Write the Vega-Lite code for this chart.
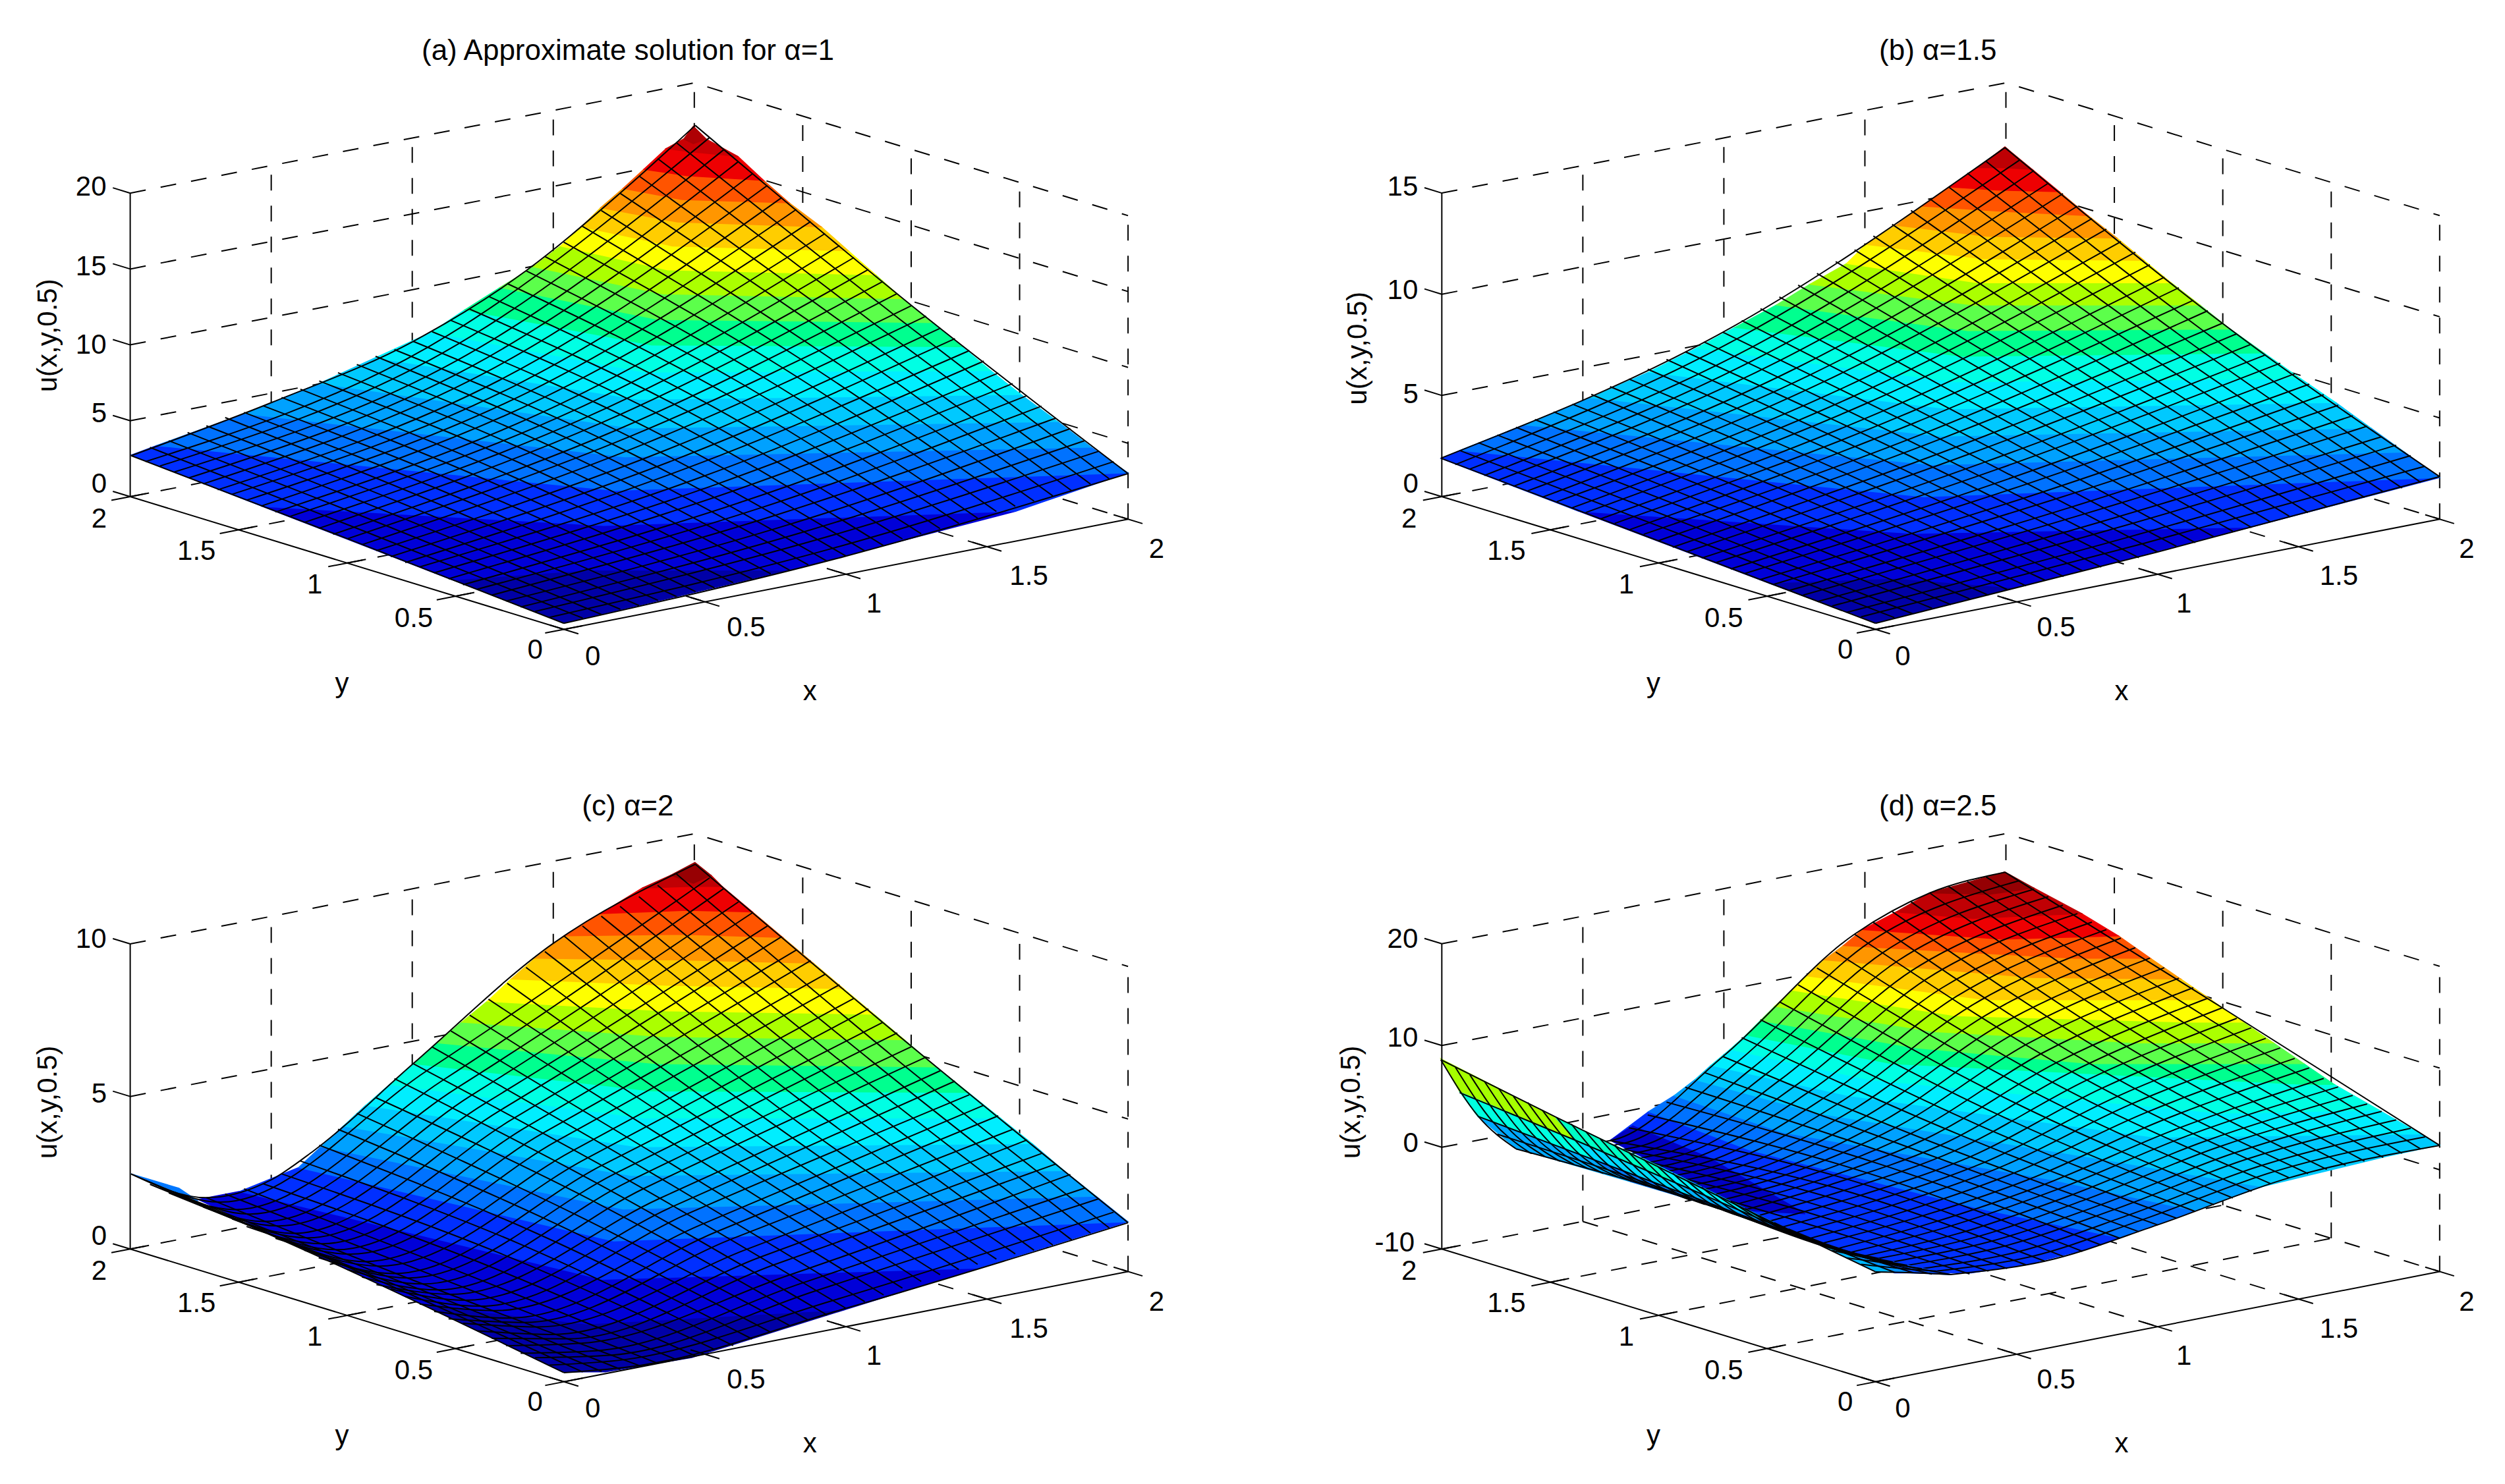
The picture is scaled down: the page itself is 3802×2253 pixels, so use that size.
{"$schema":"https://vega.github.io/schema/vega-lite/v6.json","width":3802,"height":2253,"autosize":{"type":"fit","contains":"padding"},"padding":0,"background":"white","config":{"view":{"stroke":null},"axis":{"disable":true},"text":{"font":"Liberation Sans","fontSize":42,"color":"#000"}},
"datasets":{
"dash":[
{"p":"a","g":1,"i":0,"j":30,"u":20},{"p":"a","g":1,"i":30,"j":30,"u":20},{"p":"a","g":1,"i":30,"j":0,"u":20},{"p":"a","g":2,"i":30,"j":30,"u":0},{"p":"a","g":2,"i":30,"j":30,"u":20},{"p":"a","g":3,"i":30,"j":0,"u":0},{"p":"a","g":3,"i":30,"j":0,"u":20},{"p":"a","g":4,"i":0,"j":30,"u":0},{"p":"a","g":4,"i":30,"j":30,"u":0},{"p":"a","g":4,"i":30,"j":0,"u":0},
{"p":"a","g":5,"i":7.5,"j":30,"u":0},{"p":"a","g":5,"i":7.5,"j":30,"u":20},{"p":"a","g":6,"i":15,"j":30,"u":0},{"p":"a","g":6,"i":15,"j":30,"u":20},{"p":"a","g":7,"i":22.5,"j":30,"u":0},{"p":"a","g":7,"i":22.5,"j":30,"u":20},{"p":"a","g":8,"i":30,"j":7.5,"u":0},{"p":"a","g":8,"i":30,"j":7.5,"u":20},{"p":"a","g":9,"i":30,"j":15,"u":0},{"p":"a","g":9,"i":30,"j":15,"u":20},{"p":"a","g":10,"i":30,"j":22.5,"u":0},{"p":"a","g":10,"i":30,"j":22.5,"u":20},
{"p":"a","g":11,"i":7.5,"j":0,"u":0},{"p":"a","g":11,"i":7.5,"j":30,"u":0},{"p":"a","g":12,"i":15,"j":0,"u":0},{"p":"a","g":12,"i":15,"j":30,"u":0},{"p":"a","g":13,"i":22.5,"j":0,"u":0},{"p":"a","g":13,"i":22.5,"j":30,"u":0},{"p":"a","g":14,"i":0,"j":7.5,"u":0},{"p":"a","g":14,"i":30,"j":7.5,"u":0},{"p":"a","g":15,"i":0,"j":15,"u":0},{"p":"a","g":15,"i":30,"j":15,"u":0},{"p":"a","g":16,"i":0,"j":22.5,"u":0},{"p":"a","g":16,"i":30,"j":22.5,"u":0},
{"p":"a","g":17,"i":0,"j":30,"u":5},{"p":"a","g":17,"i":30,"j":30,"u":5},{"p":"a","g":17,"i":30,"j":0,"u":5},{"p":"a","g":18,"i":0,"j":30,"u":10},{"p":"a","g":18,"i":30,"j":30,"u":10},{"p":"a","g":18,"i":30,"j":0,"u":10},{"p":"a","g":19,"i":0,"j":30,"u":15},{"p":"a","g":19,"i":30,"j":30,"u":15},{"p":"a","g":19,"i":30,"j":0,"u":15},
{"p":"b","g":1,"i":0,"j":30,"u":15},{"p":"b","g":1,"i":30,"j":30,"u":15},{"p":"b","g":1,"i":30,"j":0,"u":15},{"p":"b","g":2,"i":30,"j":30,"u":0},{"p":"b","g":2,"i":30,"j":30,"u":15},{"p":"b","g":3,"i":30,"j":0,"u":0},{"p":"b","g":3,"i":30,"j":0,"u":15},{"p":"b","g":4,"i":0,"j":30,"u":0},{"p":"b","g":4,"i":30,"j":30,"u":0},{"p":"b","g":4,"i":30,"j":0,"u":0},
{"p":"b","g":5,"i":7.5,"j":30,"u":0},{"p":"b","g":5,"i":7.5,"j":30,"u":15},{"p":"b","g":6,"i":15,"j":30,"u":0},{"p":"b","g":6,"i":15,"j":30,"u":15},{"p":"b","g":7,"i":22.5,"j":30,"u":0},{"p":"b","g":7,"i":22.5,"j":30,"u":15},{"p":"b","g":8,"i":30,"j":7.5,"u":0},{"p":"b","g":8,"i":30,"j":7.5,"u":15},{"p":"b","g":9,"i":30,"j":15,"u":0},{"p":"b","g":9,"i":30,"j":15,"u":15},{"p":"b","g":10,"i":30,"j":22.5,"u":0},{"p":"b","g":10,"i":30,"j":22.5,"u":15},
{"p":"b","g":11,"i":7.5,"j":0,"u":0},{"p":"b","g":11,"i":7.5,"j":30,"u":0},{"p":"b","g":12,"i":15,"j":0,"u":0},{"p":"b","g":12,"i":15,"j":30,"u":0},{"p":"b","g":13,"i":22.5,"j":0,"u":0},{"p":"b","g":13,"i":22.5,"j":30,"u":0},{"p":"b","g":14,"i":0,"j":7.5,"u":0},{"p":"b","g":14,"i":30,"j":7.5,"u":0},{"p":"b","g":15,"i":0,"j":15,"u":0},{"p":"b","g":15,"i":30,"j":15,"u":0},{"p":"b","g":16,"i":0,"j":22.5,"u":0},{"p":"b","g":16,"i":30,"j":22.5,"u":0},
{"p":"b","g":17,"i":0,"j":30,"u":5},{"p":"b","g":17,"i":30,"j":30,"u":5},{"p":"b","g":17,"i":30,"j":0,"u":5},{"p":"b","g":18,"i":0,"j":30,"u":10},{"p":"b","g":18,"i":30,"j":30,"u":10},{"p":"b","g":18,"i":30,"j":0,"u":10},
{"p":"c","g":1,"i":0,"j":30,"u":10},{"p":"c","g":1,"i":30,"j":30,"u":10},{"p":"c","g":1,"i":30,"j":0,"u":10},{"p":"c","g":2,"i":30,"j":30,"u":0},{"p":"c","g":2,"i":30,"j":30,"u":10},{"p":"c","g":3,"i":30,"j":0,"u":0},{"p":"c","g":3,"i":30,"j":0,"u":10},{"p":"c","g":4,"i":0,"j":30,"u":0},{"p":"c","g":4,"i":30,"j":30,"u":0},{"p":"c","g":4,"i":30,"j":0,"u":0},
{"p":"c","g":5,"i":7.5,"j":30,"u":0},{"p":"c","g":5,"i":7.5,"j":30,"u":10},{"p":"c","g":6,"i":15,"j":30,"u":0},{"p":"c","g":6,"i":15,"j":30,"u":10},{"p":"c","g":7,"i":22.5,"j":30,"u":0},{"p":"c","g":7,"i":22.5,"j":30,"u":10},{"p":"c","g":8,"i":30,"j":7.5,"u":0},{"p":"c","g":8,"i":30,"j":7.5,"u":10},{"p":"c","g":9,"i":30,"j":15,"u":0},{"p":"c","g":9,"i":30,"j":15,"u":10},{"p":"c","g":10,"i":30,"j":22.5,"u":0},{"p":"c","g":10,"i":30,"j":22.5,"u":10},
{"p":"c","g":11,"i":7.5,"j":0,"u":0},{"p":"c","g":11,"i":7.5,"j":30,"u":0},{"p":"c","g":12,"i":15,"j":0,"u":0},{"p":"c","g":12,"i":15,"j":30,"u":0},{"p":"c","g":13,"i":22.5,"j":0,"u":0},{"p":"c","g":13,"i":22.5,"j":30,"u":0},{"p":"c","g":14,"i":0,"j":7.5,"u":0},{"p":"c","g":14,"i":30,"j":7.5,"u":0},{"p":"c","g":15,"i":0,"j":15,"u":0},{"p":"c","g":15,"i":30,"j":15,"u":0},{"p":"c","g":16,"i":0,"j":22.5,"u":0},{"p":"c","g":16,"i":30,"j":22.5,"u":0},
{"p":"c","g":17,"i":0,"j":30,"u":5},{"p":"c","g":17,"i":30,"j":30,"u":5},{"p":"c","g":17,"i":30,"j":0,"u":5},
{"p":"d","g":1,"i":0,"j":30,"u":20},{"p":"d","g":1,"i":30,"j":30,"u":20},{"p":"d","g":1,"i":30,"j":0,"u":20},{"p":"d","g":2,"i":30,"j":30,"u":-10},{"p":"d","g":2,"i":30,"j":30,"u":20},{"p":"d","g":3,"i":30,"j":0,"u":-10},{"p":"d","g":3,"i":30,"j":0,"u":20},{"p":"d","g":4,"i":0,"j":30,"u":-10},{"p":"d","g":4,"i":30,"j":30,"u":-10},{"p":"d","g":4,"i":30,"j":0,"u":-10},
{"p":"d","g":5,"i":7.5,"j":30,"u":-10},{"p":"d","g":5,"i":7.5,"j":30,"u":20},{"p":"d","g":6,"i":15,"j":30,"u":-10},{"p":"d","g":6,"i":15,"j":30,"u":20},{"p":"d","g":7,"i":22.5,"j":30,"u":-10},{"p":"d","g":7,"i":22.5,"j":30,"u":20},{"p":"d","g":8,"i":30,"j":7.5,"u":-10},{"p":"d","g":8,"i":30,"j":7.5,"u":20},{"p":"d","g":9,"i":30,"j":15,"u":-10},{"p":"d","g":9,"i":30,"j":15,"u":20},{"p":"d","g":10,"i":30,"j":22.5,"u":-10},{"p":"d","g":10,"i":30,"j":22.5,"u":20},
{"p":"d","g":11,"i":7.5,"j":0,"u":-10},{"p":"d","g":11,"i":7.5,"j":30,"u":-10},{"p":"d","g":12,"i":15,"j":0,"u":-10},{"p":"d","g":12,"i":15,"j":30,"u":-10},{"p":"d","g":13,"i":22.5,"j":0,"u":-10},{"p":"d","g":13,"i":22.5,"j":30,"u":-10},{"p":"d","g":14,"i":0,"j":7.5,"u":-10},{"p":"d","g":14,"i":30,"j":7.5,"u":-10},{"p":"d","g":15,"i":0,"j":15,"u":-10},{"p":"d","g":15,"i":30,"j":15,"u":-10},{"p":"d","g":16,"i":0,"j":22.5,"u":-10},{"p":"d","g":16,"i":30,"j":22.5,"u":-10},
{"p":"d","g":17,"i":0,"j":30,"u":0},{"p":"d","g":17,"i":30,"j":30,"u":0},{"p":"d","g":17,"i":30,"j":0,"u":0},{"p":"d","g":18,"i":0,"j":30,"u":10},{"p":"d","g":18,"i":30,"j":30,"u":10},{"p":"d","g":18,"i":30,"j":0,"u":10}
],
"solid":[
{"p":"a","g":1,"i":0,"j":30,"u":0},{"p":"a","g":1,"i":0,"j":30,"u":20},{"p":"a","g":2,"i":0,"j":0,"u":0},{"p":"a","g":2,"i":0,"j":30,"u":0},{"p":"a","g":3,"i":0,"j":0,"u":0},{"p":"a","g":3,"i":30,"j":0,"u":0},
{"p":"a","g":4,"i":-1,"j":0,"u":0},{"p":"a","g":4,"i":1,"j":0,"u":0},{"p":"a","g":5,"i":-1,"j":7.5,"u":0},{"p":"a","g":5,"i":1,"j":7.5,"u":0},{"p":"a","g":6,"i":-1,"j":15,"u":0},{"p":"a","g":6,"i":1,"j":15,"u":0},{"p":"a","g":7,"i":-1,"j":22.5,"u":0},{"p":"a","g":7,"i":1,"j":22.5,"u":0},{"p":"a","g":8,"i":-1,"j":30,"u":0},{"p":"a","g":8,"i":1,"j":30,"u":0},
{"p":"a","g":9,"i":0,"j":-1,"u":0},{"p":"a","g":9,"i":0,"j":1,"u":0},{"p":"a","g":10,"i":7.5,"j":-1,"u":0},{"p":"a","g":10,"i":7.5,"j":1,"u":0},{"p":"a","g":11,"i":15,"j":-1,"u":0},{"p":"a","g":11,"i":15,"j":1,"u":0},{"p":"a","g":12,"i":22.5,"j":-1,"u":0},{"p":"a","g":12,"i":22.5,"j":1,"u":0},{"p":"a","g":13,"i":30,"j":-1,"u":0},{"p":"a","g":13,"i":30,"j":1,"u":0},
{"p":"a","g":14,"i":0,"j":30,"u":0},{"p":"a","g":14,"i":0,"j":31.2,"u":0},{"p":"a","g":15,"i":0,"j":30,"u":5},{"p":"a","g":15,"i":0,"j":31.2,"u":5},{"p":"a","g":16,"i":0,"j":30,"u":10},{"p":"a","g":16,"i":0,"j":31.2,"u":10},{"p":"a","g":17,"i":0,"j":30,"u":15},{"p":"a","g":17,"i":0,"j":31.2,"u":15},{"p":"a","g":18,"i":0,"j":30,"u":20},{"p":"a","g":18,"i":0,"j":31.2,"u":20},
{"p":"b","g":1,"i":0,"j":30,"u":0},{"p":"b","g":1,"i":0,"j":30,"u":15},{"p":"b","g":2,"i":0,"j":0,"u":0},{"p":"b","g":2,"i":0,"j":30,"u":0},{"p":"b","g":3,"i":0,"j":0,"u":0},{"p":"b","g":3,"i":30,"j":0,"u":0},
{"p":"b","g":4,"i":-1,"j":0,"u":0},{"p":"b","g":4,"i":1,"j":0,"u":0},{"p":"b","g":5,"i":-1,"j":7.5,"u":0},{"p":"b","g":5,"i":1,"j":7.5,"u":0},{"p":"b","g":6,"i":-1,"j":15,"u":0},{"p":"b","g":6,"i":1,"j":15,"u":0},{"p":"b","g":7,"i":-1,"j":22.5,"u":0},{"p":"b","g":7,"i":1,"j":22.5,"u":0},{"p":"b","g":8,"i":-1,"j":30,"u":0},{"p":"b","g":8,"i":1,"j":30,"u":0},
{"p":"b","g":9,"i":0,"j":-1,"u":0},{"p":"b","g":9,"i":0,"j":1,"u":0},{"p":"b","g":10,"i":7.5,"j":-1,"u":0},{"p":"b","g":10,"i":7.5,"j":1,"u":0},{"p":"b","g":11,"i":15,"j":-1,"u":0},{"p":"b","g":11,"i":15,"j":1,"u":0},{"p":"b","g":12,"i":22.5,"j":-1,"u":0},{"p":"b","g":12,"i":22.5,"j":1,"u":0},{"p":"b","g":13,"i":30,"j":-1,"u":0},{"p":"b","g":13,"i":30,"j":1,"u":0},
{"p":"b","g":14,"i":0,"j":30,"u":0},{"p":"b","g":14,"i":0,"j":31.2,"u":0},{"p":"b","g":15,"i":0,"j":30,"u":5},{"p":"b","g":15,"i":0,"j":31.2,"u":5},{"p":"b","g":16,"i":0,"j":30,"u":10},{"p":"b","g":16,"i":0,"j":31.2,"u":10},{"p":"b","g":17,"i":0,"j":30,"u":15},{"p":"b","g":17,"i":0,"j":31.2,"u":15},
{"p":"c","g":1,"i":0,"j":30,"u":0},{"p":"c","g":1,"i":0,"j":30,"u":10},{"p":"c","g":2,"i":0,"j":0,"u":0},{"p":"c","g":2,"i":0,"j":30,"u":0},{"p":"c","g":3,"i":0,"j":0,"u":0},{"p":"c","g":3,"i":30,"j":0,"u":0},
{"p":"c","g":4,"i":-1,"j":0,"u":0},{"p":"c","g":4,"i":1,"j":0,"u":0},{"p":"c","g":5,"i":-1,"j":7.5,"u":0},{"p":"c","g":5,"i":1,"j":7.5,"u":0},{"p":"c","g":6,"i":-1,"j":15,"u":0},{"p":"c","g":6,"i":1,"j":15,"u":0},{"p":"c","g":7,"i":-1,"j":22.5,"u":0},{"p":"c","g":7,"i":1,"j":22.5,"u":0},{"p":"c","g":8,"i":-1,"j":30,"u":0},{"p":"c","g":8,"i":1,"j":30,"u":0},
{"p":"c","g":9,"i":0,"j":-1,"u":0},{"p":"c","g":9,"i":0,"j":1,"u":0},{"p":"c","g":10,"i":7.5,"j":-1,"u":0},{"p":"c","g":10,"i":7.5,"j":1,"u":0},{"p":"c","g":11,"i":15,"j":-1,"u":0},{"p":"c","g":11,"i":15,"j":1,"u":0},{"p":"c","g":12,"i":22.5,"j":-1,"u":0},{"p":"c","g":12,"i":22.5,"j":1,"u":0},{"p":"c","g":13,"i":30,"j":-1,"u":0},{"p":"c","g":13,"i":30,"j":1,"u":0},
{"p":"c","g":14,"i":0,"j":30,"u":0},{"p":"c","g":14,"i":0,"j":31.2,"u":0},{"p":"c","g":15,"i":0,"j":30,"u":5},{"p":"c","g":15,"i":0,"j":31.2,"u":5},{"p":"c","g":16,"i":0,"j":30,"u":10},{"p":"c","g":16,"i":0,"j":31.2,"u":10},
{"p":"d","g":1,"i":0,"j":30,"u":-10},{"p":"d","g":1,"i":0,"j":30,"u":20},{"p":"d","g":2,"i":0,"j":0,"u":-10},{"p":"d","g":2,"i":0,"j":30,"u":-10},{"p":"d","g":3,"i":0,"j":0,"u":-10},{"p":"d","g":3,"i":30,"j":0,"u":-10},
{"p":"d","g":4,"i":-1,"j":0,"u":-10},{"p":"d","g":4,"i":1,"j":0,"u":-10},{"p":"d","g":5,"i":-1,"j":7.5,"u":-10},{"p":"d","g":5,"i":1,"j":7.5,"u":-10},{"p":"d","g":6,"i":-1,"j":15,"u":-10},{"p":"d","g":6,"i":1,"j":15,"u":-10},{"p":"d","g":7,"i":-1,"j":22.5,"u":-10},{"p":"d","g":7,"i":1,"j":22.5,"u":-10},{"p":"d","g":8,"i":-1,"j":30,"u":-10},{"p":"d","g":8,"i":1,"j":30,"u":-10},
{"p":"d","g":9,"i":0,"j":-1,"u":-10},{"p":"d","g":9,"i":0,"j":1,"u":-10},{"p":"d","g":10,"i":7.5,"j":-1,"u":-10},{"p":"d","g":10,"i":7.5,"j":1,"u":-10},{"p":"d","g":11,"i":15,"j":-1,"u":-10},{"p":"d","g":11,"i":15,"j":1,"u":-10},{"p":"d","g":12,"i":22.5,"j":-1,"u":-10},{"p":"d","g":12,"i":22.5,"j":1,"u":-10},{"p":"d","g":13,"i":30,"j":-1,"u":-10},{"p":"d","g":13,"i":30,"j":1,"u":-10},
{"p":"d","g":14,"i":0,"j":30,"u":-10},{"p":"d","g":14,"i":0,"j":31.2,"u":-10},{"p":"d","g":15,"i":0,"j":30,"u":0},{"p":"d","g":15,"i":0,"j":31.2,"u":0},{"p":"d","g":16,"i":0,"j":30,"u":10},{"p":"d","g":16,"i":0,"j":31.2,"u":10},{"p":"d","g":17,"i":0,"j":30,"u":20},{"p":"d","g":17,"i":0,"j":31.2,"u":20}
],
"polys":[
{"type":"Feature","f":0.028,"geometry":{"type":"Polygon","coordinates":[[[353,390],[494,357],[368,357],[283,363],[353,390]]]}},
{"type":"Feature","f":0.083,"geometry":{"type":"Polygon","coordinates":[[[283,363],[368,357],[494,357],[636,320],[378,329],[164,317],[283,363]]]}},
{"type":"Feature","f":0.139,"geometry":{"type":"Polygon","coordinates":[[[164,317],[378,329],[636,320],[706,296],[385,307],[98,279],[82,285],[164,317]]]}},
{"type":"Feature","f":0.194,"geometry":{"type":"Polygon","coordinates":[[[98,279],[385,307],[706,296],[683,280],[391,286],[153,259],[98,279]]]}},
{"type":"Feature","f":0.25,"geometry":{"type":"Polygon","coordinates":[[[153,259],[391,286],[683,280],[662,264],[396,268],[200,240],[153,259]]]}},
{"type":"Feature","f":0.306,"geometry":{"type":"Polygon","coordinates":[[[200,240],[396,268],[662,264],[639,247],[400,250],[235,224],[200,240]]]}},
{"type":"Feature","f":0.361,"geometry":{"type":"Polygon","coordinates":[[[235,224],[400,250],[639,247],[620,232],[404,233],[270,208],[235,224]]]}},
{"type":"Feature","f":0.417,"geometry":{"type":"Polygon","coordinates":[[[270,208],[404,233],[620,232],[602,217],[408,216],[291,194],[270,208]]]}},
{"type":"Feature","f":0.472,"geometry":{"type":"Polygon","coordinates":[[[291,194],[408,216],[602,217],[584,202],[412,200],[313,180],[291,194]]]}},
{"type":"Feature","f":0.528,"geometry":{"type":"Polygon","coordinates":[[[313,180],[412,200],[584,202],[565,187],[415,184],[334,167],[313,180]]]}},
{"type":"Feature","f":0.583,"geometry":{"type":"Polygon","coordinates":[[[334,167],[415,184],[565,187],[548,172],[418,169],[351,154],[334,167]]]}},
{"type":"Feature","f":0.639,"geometry":{"type":"Polygon","coordinates":[[[351,154],[418,169],[548,172],[531,157],[421,154],[364,142],[351,154]]]}},
{"type":"Feature","f":0.694,"geometry":{"type":"Polygon","coordinates":[[[364,142],[421,154],[531,157],[514,142],[424,139],[376,130],[364,142]]]}},
{"type":"Feature","f":0.75,"geometry":{"type":"Polygon","coordinates":[[[376,130],[424,139],[514,142],[494,127],[427,125],[390,118],[376,130]]]}},
{"type":"Feature","f":0.806,"geometry":{"type":"Polygon","coordinates":[[[390,118],[427,125],[494,127],[478,113],[430,110],[403,106],[390,118]]]}},
{"type":"Feature","f":0.861,"geometry":{"type":"Polygon","coordinates":[[[403,106],[430,110],[478,113],[462,98],[432,95],[417,93],[403,106]]]}},
{"type":"Feature","f":0.905,"geometry":{"type":"Polygon","coordinates":[[[417,93],[432,95],[462,98],[442,87],[434,90],[428,87],[417,93]]]}},
{"type":"Feature","f":0.94,"geometry":{"type":"Polygon","coordinates":[[[428,87],[434,90],[442,87],[434,79],[428,87]]]}},
{"type":"Feature","f":0.028,"geometry":{"type":"Polygon","coordinates":[[[1174,390],[1261,368],[1186,362],[1107,365],[1174,390]]]}},
{"type":"Feature","f":0.083,"geometry":{"type":"Polygon","coordinates":[[[1107,365],[1186,362],[1261,368],[1409,330],[1197,334],[988,320],[1107,365]]]}},
{"type":"Feature","f":0.139,"geometry":{"type":"Polygon","coordinates":[[[988,320],[1197,334],[1409,330],[1527,299],[1204,311],[914,282],[902,287],[988,320]]]}},
{"type":"Feature","f":0.194,"geometry":{"type":"Polygon","coordinates":[[[914,282],[1204,311],[1527,299],[1505,283],[1210,291],[954,266],[914,282]]]}},
{"type":"Feature","f":0.25,"geometry":{"type":"Polygon","coordinates":[[[954,266],[1210,291],[1505,283],[1484,268],[1215,273],[996,249],[954,266]]]}},
{"type":"Feature","f":0.306,"geometry":{"type":"Polygon","coordinates":[[[996,249],[1215,273],[1484,268],[1462,252],[1220,256],[1032,233],[996,249]]]}},
{"type":"Feature","f":0.361,"geometry":{"type":"Polygon","coordinates":[[[1032,233],[1220,256],[1462,252],[1440,237],[1224,239],[1062,218],[1032,233]]]}},
{"type":"Feature","f":0.417,"geometry":{"type":"Polygon","coordinates":[[[1062,218],[1224,239],[1440,237],[1417,221],[1228,223],[1086,205],[1062,218]]]}},
{"type":"Feature","f":0.472,"geometry":{"type":"Polygon","coordinates":[[[1086,205],[1228,223],[1417,221],[1396,206],[1232,207],[1112,191],[1086,205]]]}},
{"type":"Feature","f":0.528,"geometry":{"type":"Polygon","coordinates":[[[1112,191],[1232,207],[1396,206],[1377,191],[1235,191],[1133,178],[1112,191]]]}},
{"type":"Feature","f":0.583,"geometry":{"type":"Polygon","coordinates":[[[1133,178],[1235,191],[1377,191],[1359,177],[1238,177],[1156,165],[1133,178]]]}},
{"type":"Feature","f":0.639,"geometry":{"type":"Polygon","coordinates":[[[1156,165],[1238,177],[1359,177],[1342,163],[1241,162],[1168,153],[1156,165]]]}},
{"type":"Feature","f":0.694,"geometry":{"type":"Polygon","coordinates":[[[1168,153],[1241,162],[1342,163],[1325,149],[1244,148],[1187,141],[1168,153]]]}},
{"type":"Feature","f":0.75,"geometry":{"type":"Polygon","coordinates":[[[1187,141],[1244,148],[1325,149],[1307,135],[1248,132],[1203,129],[1187,141]]]}},
{"type":"Feature","f":0.806,"geometry":{"type":"Polygon","coordinates":[[[1203,129],[1248,132],[1307,135],[1289,120],[1250,119],[1220,117],[1203,129]]]}},
{"type":"Feature","f":0.861,"geometry":{"type":"Polygon","coordinates":[[[1220,117],[1250,119],[1289,120],[1272,106],[1253,105],[1238,105],[1220,117]]]}},
{"type":"Feature","f":0.92,"geometry":{"type":"Polygon","coordinates":[[[1238,105],[1253,105],[1272,106],[1255,92],[1238,105]]]}},
{"type":"Feature","f":0.2,"geometry":{"type":"Polygon","coordinates":[[[82,735],[124,752],[112,744],[82,735]]]}},
{"type":"Feature","f":0.028,"geometry":{"type":"Polygon","coordinates":[[[265,817],[367,829],[529,820],[433,850],[379,859],[352,859],[265,817]]]}},
{"type":"Feature","f":0.083,"geometry":{"type":"Polygon","coordinates":[[[124,751],[150,746],[377,801],[612,794],[529,820],[367,829],[265,817],[124,751]]]}},
{"type":"Feature","f":0.139,"geometry":{"type":"Polygon","coordinates":[[[150,746],[187,731],[384,777],[706,765],[612,794],[377,801],[150,746]]]}},
{"type":"Feature","f":0.194,"geometry":{"type":"Polygon","coordinates":[[[187,731],[384,777],[706,765],[686,749],[390,757],[201,718],[187,731]]]}},
{"type":"Feature","f":0.25,"geometry":{"type":"Polygon","coordinates":[[[201,718],[390,757],[686,749],[666,733],[395,736],[215,705],[201,718]]]}},
{"type":"Feature","f":0.306,"geometry":{"type":"Polygon","coordinates":[[[215,705],[395,736],[666,733],[646,716],[399,718],[229,692],[215,705]]]}},
{"type":"Feature","f":0.361,"geometry":{"type":"Polygon","coordinates":[[[229,692],[399,718],[646,716],[626,700],[403,700],[244,679],[229,692]]]}},
{"type":"Feature","f":0.417,"geometry":{"type":"Polygon","coordinates":[[[244,679],[403,700],[626,700],[606,684],[407,683],[259,666],[244,679]]]}},
{"type":"Feature","f":0.472,"geometry":{"type":"Polygon","coordinates":[[[259,666],[407,683],[606,684],[586,668],[411,666],[274,653],[259,666]]]}},
{"type":"Feature","f":0.528,"geometry":{"type":"Polygon","coordinates":[[[274,653],[411,666],[586,668],[566,651],[415,649],[289,640],[274,653]]]}},
{"type":"Feature","f":0.583,"geometry":{"type":"Polygon","coordinates":[[[289,640],[415,649],[566,651],[547,635],[418,633],[305,627],[289,640]]]}},
{"type":"Feature","f":0.639,"geometry":{"type":"Polygon","coordinates":[[[305,627],[418,633],[547,635],[528,619],[421,617],[320,613],[305,627]]]}},
{"type":"Feature","f":0.694,"geometry":{"type":"Polygon","coordinates":[[[320,613],[421,617],[528,619],[509,603],[424,601],[335,600],[320,613]]]}},
{"type":"Feature","f":0.75,"geometry":{"type":"Polygon","coordinates":[[[335,600],[424,601],[509,603],[490,587],[427,585],[353,586],[335,600]]]}},
{"type":"Feature","f":0.806,"geometry":{"type":"Polygon","coordinates":[[[353,586],[427,585],[490,587],[471,571],[430,570],[376,572],[353,586]]]}},
{"type":"Feature","f":0.861,"geometry":{"type":"Polygon","coordinates":[[[376,572],[430,570],[471,571],[452,555],[432,555],[402,556],[376,572]]]}},
{"type":"Feature","f":0.917,"geometry":{"type":"Polygon","coordinates":[[[402,556],[432,555],[452,555],[445,548],[434,553],[420,548],[402,556]]]}},
{"type":"Feature","f":0.97,"geometry":{"type":"Polygon","coordinates":[[[420,548],[434,553],[445,548],[435,540],[420,548]]]}},
{"type":"Feature","f":0.14,"geometry":{"type":"Polygon","coordinates":[[[1008,714],[1032,696],[1095,720],[1236,756],[1327,775],[1303,783],[1268,792],[1234,797],[1186,797],[1090,757],[1008,714]]]}},
{"type":"Feature","f":0.06,"geometry":{"type":"Polygon","coordinates":[[[1008,714],[1022,705],[1070,725],[1130,760],[1095,758],[1008,714]]]}},
{"type":"Feature","f":0.194,"geometry":{"type":"Polygon","coordinates":[[[1032,696],[1095,720],[1236,756],[1327,775],[1374,758],[1286,739],[1116,709],[1048,686],[1032,696]]]}},
{"type":"Feature","f":0.25,"geometry":{"type":"Polygon","coordinates":[[[1048,686],[1116,709],[1286,739],[1374,758],[1416,743],[1317,726],[1138,697],[1061,676],[1048,686]]]}},
{"type":"Feature","f":0.306,"geometry":{"type":"Polygon","coordinates":[[[1061,676],[1138,697],[1317,726],[1416,743],[1494,724],[1527,717],[1515,710],[1349,712],[1157,686],[1071,667],[1061,676]]]}},
{"type":"Feature","f":0.361,"geometry":{"type":"Polygon","coordinates":[[[1071,667],[1157,686],[1349,712],[1515,710],[1489,695],[1390,697],[1170,676],[1083,657],[1071,667]]]}},
{"type":"Feature","f":0.417,"geometry":{"type":"Polygon","coordinates":[[[1083,657],[1170,676],[1390,697],[1489,695],[1461,679],[1443,679],[1184,666],[1093,648],[1083,657]]]}},
{"type":"Feature","f":0.472,"geometry":{"type":"Polygon","coordinates":[[[1093,648],[1184,666],[1443,679],[1461,679],[1442,666],[1309,666],[1198,656],[1102,639],[1093,648]]]}},
{"type":"Feature","f":0.528,"geometry":{"type":"Polygon","coordinates":[[[1102,639],[1198,656],[1309,666],[1442,666],[1423,653],[1339,653],[1211,646],[1111,630],[1102,639]]]}},
{"type":"Feature","f":0.583,"geometry":{"type":"Polygon","coordinates":[[[1111,630],[1211,646],[1339,653],[1423,653],[1404,640],[1370,640],[1224,636],[1122,620],[1111,630]]]}},
{"type":"Feature","f":0.639,"geometry":{"type":"Polygon","coordinates":[[[1122,620],[1224,636],[1370,640],[1404,640],[1384,626],[1243,626],[1131,611],[1122,620]]]}},
{"type":"Feature","f":0.694,"geometry":{"type":"Polygon","coordinates":[[[1131,611],[1243,626],[1384,626],[1365,613],[1272,612],[1142,601],[1131,611]]]}},
{"type":"Feature","f":0.75,"geometry":{"type":"Polygon","coordinates":[[[1142,601],[1272,612],[1365,613],[1346,600],[1298,600],[1154,592],[1142,601]]]}},
{"type":"Feature","f":0.806,"geometry":{"type":"Polygon","coordinates":[[[1154,592],[1298,600],[1346,600],[1326,586],[1253,588],[1166,582],[1154,592]]]}},
{"type":"Feature","f":0.861,"geometry":{"type":"Polygon","coordinates":[[[1166,582],[1253,588],[1326,586],[1303,572],[1235,575],[1187,571],[1166,582]]]}},
{"type":"Feature","f":0.917,"geometry":{"type":"Polygon","coordinates":[[[1187,571],[1235,575],[1303,572],[1273,556],[1245,560],[1208,559],[1187,571]]]}},
{"type":"Feature","f":0.972,"geometry":{"type":"Polygon","coordinates":[[[1208,559],[1245,560],[1273,556],[1255,546],[1208,559]]]}}
],
"strip":[
{"type":"Feature","f":0.58,"geometry":{"type":"Polygon","coordinates":[[[902,663],[974,700],[986,714],[914,684],[902,663]]]}},
{"type":"Feature","f":0.44,"geometry":{"type":"Polygon","coordinates":[[[974,700],[1038,730],[1050,741],[986,714],[974,700]]]}},
{"type":"Feature","f":0.37,"geometry":{"type":"Polygon","coordinates":[[[1038,730],[1101,761],[1113,768],[1050,741],[1038,730]]]}},
{"type":"Feature","f":0.28,"geometry":{"type":"Polygon","coordinates":[[[1101,761],[1174,796],[1186,796],[1113,768],[1101,761]]]}},
{"type":"Feature","f":0.42,"geometry":{"type":"Polygon","coordinates":[[[914,684],[986,714],[998,726],[925,699],[914,684]]]}},
{"type":"Feature","f":0.33,"geometry":{"type":"Polygon","coordinates":[[[986,714],[1050,741],[1061,750],[998,726],[986,714]]]}},
{"type":"Feature","f":0.27,"geometry":{"type":"Polygon","coordinates":[[[1050,741],[1113,768],[1125,773],[1061,750],[1050,741]]]}},
{"type":"Feature","f":0.23,"geometry":{"type":"Polygon","coordinates":[[[1113,768],[1186,796],[1197,797],[1125,773],[1113,768]]]}},
{"type":"Feature","f":0.26,"geometry":{"type":"Polygon","coordinates":[[[925,699],[998,726],[1021,740],[949,719],[925,699]]]}},
{"type":"Feature","f":0.2,"geometry":{"type":"Polygon","coordinates":[[[998,726],[1061,750],[1085,759],[1021,740],[998,726]]]}},
{"type":"Feature","f":0.165,"geometry":{"type":"Polygon","coordinates":[[[1061,750],[1125,773],[1148,782],[1085,759],[1061,750]]]}},
{"type":"Feature","f":0.16,"geometry":{"type":"Polygon","coordinates":[[[1125,773],[1197,797],[1221,798],[1148,782],[1125,773]]]}}
],
"a1":[{"j":0,"i":0,"u":0.4},{"j":0,"i":15,"u":1.2},{"j":0,"i":30,"u":3},{"j":1,"i":0,"u":0.5},{"j":1,"i":15,"u":1.4},{"j":1,"i":30,"u":3.5},{"j":2,"i":0,"u":0.6},{"j":2,"i":15,"u":1.7},{"j":2,"i":30,"u":3.9},{"j":3,"i":0,"u":0.6},{"j":3,"i":15,"u":1.9},{"j":3,"i":30,"u":4.3},{"j":4,"i":0,"u":0.7},{"j":4,"i":15,"u":2.1},{"j":4,"i":30,"u":4.8},{"j":5,"i":0,"u":0.8},{"j":5,"i":15,"u":2.4},{"j":5,"i":30,"u":5.2},{"j":6,"i":0,"u":0.9},{"j":6,"i":15,"u":2.6},{"j":6,"i":30,"u":5.7},{"j":7,"i":0,"u":0.9},{"j":7,"i":15,"u":2.8},{"j":7,"i":30,"u":6.1},{"j":8,"i":0,"u":1},{"j":8,"i":15,"u":3.1},{"j":8,"i":30,"u":6.6},{"j":9,"i":0,"u":1.1},{"j":9,"i":15,"u":3.3},{"j":9,"i":30,"u":7},{"j":10,"i":0,"u":1.2},{"j":10,"i":15,"u":3.5},{"j":10,"i":30,"u":7.5},{"j":11,"i":0,"u":1.2},{"j":11,"i":15,"u":3.8},{"j":11,"i":30,"u":7.9},{"j":12,"i":0,"u":1.3},{"j":12,"i":15,"u":4},{"j":12,"i":30,"u":8.4},{"j":13,"i":0,"u":1.4},{"j":13,"i":15,"u":4.2},{"j":13,"i":30,"u":8.8},{"j":14,"i":0,"u":1.5},{"j":14,"i":15,"u":4.5},{"j":14,"i":30,"u":9.3},{"j":15,"i":0,"u":1.6},{"j":15,"i":15,"u":4.7},{"j":15,"i":30,"u":9.7},{"j":16,"i":0,"u":1.6},{"j":16,"i":15,"u":4.8},{"j":16,"i":30,"u":10.2},{"j":17,"i":0,"u":1.7},{"j":17,"i":15,"u":5},{"j":17,"i":30,"u":10.7},{"j":18,"i":0,"u":1.8},{"j":18,"i":15,"u":5.1},{"j":18,"i":30,"u":11.2},{"j":19,"i":0,"u":1.9},{"j":19,"i":15,"u":5.2},{"j":19,"i":30,"u":11.7},{"j":20,"i":0,"u":1.9},{"j":20,"i":15,"u":5.3},{"j":20,"i":30,"u":12.2},{"j":21,"i":0,"u":2},{"j":21,"i":15,"u":5.5},{"j":21,"i":30,"u":12.7},{"j":22,"i":0,"u":2.1},{"j":22,"i":15,"u":5.6},{"j":22,"i":30,"u":13.2},{"j":23,"i":0,"u":2.2},{"j":23,"i":15,"u":5.7},{"j":23,"i":30,"u":13.7},{"j":24,"i":0,"u":2.2},{"j":24,"i":15,"u":5.8},{"j":24,"i":30,"u":14.2},{"j":25,"i":0,"u":2.3},{"j":25,"i":15,"u":6},{"j":25,"i":30,"u":14.7},{"j":26,"i":0,"u":2.4},{"j":26,"i":15,"u":6.1},{"j":26,"i":30,"u":15.2},{"j":27,"i":0,"u":2.5},{"j":27,"i":15,"u":6.2},{"j":27,"i":30,"u":15.7},{"j":28,"i":0,"u":2.6},{"j":28,"i":15,"u":6.4},{"j":28,"i":30,"u":16.2},{"j":29,"i":0,"u":2.6},{"j":29,"i":15,"u":6.5},{"j":29,"i":30,"u":16.7},{"j":30,"i":0,"u":2.7},{"j":30,"i":7.5,"u":4.4},{"j":30,"i":15,"u":6.6},{"j":30,"i":21,"u":9.8},{"j":30,"i":26,"u":13.7},{"j":30,"i":30,"u":17.2}],
"a2":[{"i":0,"j":0,"u":0.4},{"i":0,"j":15,"u":1.6},{"i":0,"j":30,"u":2.7},{"i":1,"j":0,"u":0.5},{"i":1,"j":15,"u":1.8},{"i":1,"j":30,"u":3},{"i":2,"j":0,"u":0.5},{"i":2,"j":15,"u":2},{"i":2,"j":30,"u":3.2},{"i":3,"j":0,"u":0.6},{"i":3,"j":15,"u":2.2},{"i":3,"j":30,"u":3.5},{"i":4,"j":0,"u":0.6},{"i":4,"j":15,"u":2.4},{"i":4,"j":30,"u":3.7},{"i":5,"j":0,"u":0.7},{"i":5,"j":15,"u":2.6},{"i":5,"j":30,"u":4},{"i":6,"j":0,"u":0.7},{"i":6,"j":15,"u":2.8},{"i":6,"j":30,"u":4.1},{"i":7,"j":0,"u":0.8},{"i":7,"j":15,"u":3},{"i":7,"j":30,"u":4.3},{"i":8,"j":0,"u":0.8},{"i":8,"j":15,"u":3.2},{"i":8,"j":30,"u":4.6},{"i":9,"j":0,"u":0.9},{"i":9,"j":15,"u":3.4},{"i":9,"j":30,"u":4.9},{"i":10,"j":0,"u":0.9},{"i":10,"j":15,"u":3.7},{"i":10,"j":30,"u":5.2},{"i":11,"j":0,"u":1},{"i":11,"j":15,"u":3.9},{"i":11,"j":30,"u":5.5},{"i":12,"j":0,"u":1},{"i":12,"j":15,"u":4.1},{"i":12,"j":30,"u":5.8},{"i":13,"j":0,"u":1.1},{"i":13,"j":15,"u":4.3},{"i":13,"j":30,"u":6.1},{"i":14,"j":0,"u":1.1},{"i":14,"j":15,"u":4.5},{"i":14,"j":30,"u":6.3},{"i":15,"j":0,"u":1.2},{"i":15,"j":15,"u":4.7},{"i":15,"j":30,"u":6.6},{"i":16,"j":0,"u":1.3},{"i":16,"j":15,"u":5},{"i":16,"j":30,"u":7},{"i":17,"j":0,"u":1.4},{"i":17,"j":15,"u":5.4},{"i":17,"j":30,"u":7.5},{"i":18,"j":0,"u":1.6},{"i":18,"j":15,"u":5.7},{"i":18,"j":30,"u":8},{"i":19,"j":0,"u":1.7},{"i":19,"j":15,"u":6},{"i":19,"j":30,"u":8.6},{"i":20,"j":0,"u":1.8},{"i":20,"j":15,"u":6.4},{"i":20,"j":30,"u":9.2},{"i":21,"j":0,"u":1.9},{"i":21,"j":15,"u":6.7},{"i":21,"j":30,"u":9.8},{"i":22,"j":0,"u":2},{"i":22,"j":15,"u":7},{"i":22,"j":30,"u":10.5},{"i":23,"j":0,"u":2.2},{"i":23,"j":15,"u":7.4},{"i":23,"j":30,"u":11.2},{"i":24,"j":0,"u":2.3},{"i":24,"j":15,"u":7.7},{"i":24,"j":30,"u":12},{"i":25,"j":0,"u":2.4},{"i":25,"j":15,"u":8},{"i":25,"j":30,"u":12.8},{"i":26,"j":0,"u":2.5},{"i":26,"j":15,"u":8.4},{"i":26,"j":30,"u":13.7},{"i":27,"j":0,"u":2.6},{"i":27,"j":15,"u":8.7},{"i":27,"j":30,"u":14.6},{"i":28,"j":0,"u":2.8},{"i":28,"j":15,"u":9},{"i":28,"j":30,"u":15.5},{"i":29,"j":0,"u":2.9},{"i":29,"j":15,"u":9.4},{"i":29,"j":30,"u":16.3},{"i":30,"j":0,"u":3},{"i":30,"j":15,"u":9.7},{"i":30,"j":30,"u":17.2}],
"b1":[{"j":0,"i":0,"u":0.3},{"j":0,"i":15,"u":1.1},{"j":0,"i":30,"u":2.1},{"j":1,"i":0,"u":0.4},{"j":1,"i":15,"u":1.3},{"j":1,"i":30,"u":2.4},{"j":2,"i":0,"u":0.4},{"j":2,"i":15,"u":1.4},{"j":2,"i":30,"u":2.7},{"j":3,"i":0,"u":0.5},{"j":3,"i":15,"u":1.6},{"j":3,"i":30,"u":3},{"j":4,"i":0,"u":0.5},{"j":4,"i":15,"u":1.7},{"j":4,"i":30,"u":3.2},{"j":5,"i":0,"u":0.6},{"j":5,"i":15,"u":1.9},{"j":5,"i":30,"u":3.5},{"j":6,"i":0,"u":0.6},{"j":6,"i":15,"u":2},{"j":6,"i":30,"u":3.8},{"j":7,"i":0,"u":0.7},{"j":7,"i":15,"u":2.2},{"j":7,"i":30,"u":4.1},{"j":8,"i":0,"u":0.7},{"j":8,"i":15,"u":2.3},{"j":8,"i":30,"u":4.4},{"j":9,"i":0,"u":0.8},{"j":9,"i":15,"u":2.5},{"j":9,"i":30,"u":4.7},{"j":10,"i":0,"u":0.8},{"j":10,"i":15,"u":2.6},{"j":10,"i":30,"u":5},{"j":11,"i":0,"u":0.9},{"j":11,"i":15,"u":2.8},{"j":11,"i":30,"u":5.3},{"j":12,"i":0,"u":0.9},{"j":12,"i":15,"u":2.9},{"j":12,"i":30,"u":5.5},{"j":13,"i":0,"u":1},{"j":13,"i":15,"u":3.1},{"j":13,"i":30,"u":5.8},{"j":14,"i":0,"u":1},{"j":14,"i":15,"u":3.2},{"j":14,"i":30,"u":6.1},{"j":15,"i":0,"u":1.1},{"j":15,"i":15,"u":3.4},{"j":15,"i":30,"u":6.4},{"j":16,"i":0,"u":1.2},{"j":16,"i":15,"u":3.5},{"j":16,"i":30,"u":6.8},{"j":17,"i":0,"u":1.2},{"j":17,"i":15,"u":3.7},{"j":17,"i":30,"u":7.1},{"j":18,"i":0,"u":1.3},{"j":18,"i":15,"u":3.8},{"j":18,"i":30,"u":7.5},{"j":19,"i":0,"u":1.3},{"j":19,"i":15,"u":3.9},{"j":19,"i":30,"u":7.8},{"j":20,"i":0,"u":1.4},{"j":20,"i":15,"u":4.1},{"j":20,"i":30,"u":8.2},{"j":21,"i":0,"u":1.4},{"j":21,"i":15,"u":4.2},{"j":21,"i":30,"u":8.6},{"j":22,"i":0,"u":1.5},{"j":22,"i":15,"u":4.3},{"j":22,"i":30,"u":8.9},{"j":23,"i":0,"u":1.5},{"j":23,"i":15,"u":4.5},{"j":23,"i":30,"u":9.3},{"j":24,"i":0,"u":1.6},{"j":24,"i":15,"u":4.6},{"j":24,"i":30,"u":9.6},{"j":25,"i":0,"u":1.6},{"j":25,"i":15,"u":4.7},{"j":25,"i":30,"u":10},{"j":26,"i":0,"u":1.7},{"j":26,"i":15,"u":4.9},{"j":26,"i":30,"u":10.4},{"j":27,"i":0,"u":1.7},{"j":27,"i":15,"u":5},{"j":27,"i":30,"u":10.7},{"j":28,"i":0,"u":1.8},{"j":28,"i":15,"u":5.1},{"j":28,"i":30,"u":11.1},{"j":29,"i":0,"u":1.8},{"j":29,"i":15,"u":5.3},{"j":29,"i":30,"u":11.4},{"j":30,"i":0,"u":1.9},{"j":30,"i":15,"u":5.4},{"j":30,"i":30,"u":11.8}],
"b2":[{"i":0,"j":0,"u":0.3},{"i":0,"j":15,"u":1.1},{"i":0,"j":30,"u":1.9},{"i":1,"j":0,"u":0.4},{"i":1,"j":15,"u":1.3},{"i":1,"j":30,"u":2.1},{"i":2,"j":0,"u":0.4},{"i":2,"j":15,"u":1.4},{"i":2,"j":30,"u":2.3},{"i":3,"j":0,"u":0.5},{"i":3,"j":15,"u":1.6},{"i":3,"j":30,"u":2.5},{"i":4,"j":0,"u":0.5},{"i":4,"j":15,"u":1.7},{"i":4,"j":30,"u":2.7},{"i":5,"j":0,"u":0.6},{"i":5,"j":15,"u":1.9},{"i":5,"j":30,"u":2.9},{"i":6,"j":0,"u":0.6},{"i":6,"j":15,"u":2},{"i":6,"j":30,"u":3.1},{"i":7,"j":0,"u":0.7},{"i":7,"j":15,"u":2.2},{"i":7,"j":30,"u":3.3},{"i":8,"j":0,"u":0.7},{"i":8,"j":15,"u":2.3},{"i":8,"j":30,"u":3.6},{"i":9,"j":0,"u":0.8},{"i":9,"j":15,"u":2.5},{"i":9,"j":30,"u":3.8},{"i":10,"j":0,"u":0.8},{"i":10,"j":15,"u":2.6},{"i":10,"j":30,"u":4},{"i":11,"j":0,"u":0.9},{"i":11,"j":15,"u":2.8},{"i":11,"j":30,"u":4.3},{"i":12,"j":0,"u":0.9},{"i":12,"j":15,"u":2.9},{"i":12,"j":30,"u":4.6},{"i":13,"j":0,"u":1},{"i":13,"j":15,"u":3.1},{"i":13,"j":30,"u":4.8},{"i":14,"j":0,"u":1},{"i":14,"j":15,"u":3.2},{"i":14,"j":30,"u":5.1},{"i":15,"j":0,"u":1.1},{"i":15,"j":15,"u":3.4},{"i":15,"j":30,"u":5.4},{"i":16,"j":0,"u":1.2},{"i":16,"j":15,"u":3.6},{"i":16,"j":30,"u":5.8},{"i":17,"j":0,"u":1.2},{"i":17,"j":15,"u":3.8},{"i":17,"j":30,"u":6.2},{"i":18,"j":0,"u":1.3},{"i":18,"j":15,"u":4},{"i":18,"j":30,"u":6.6},{"i":19,"j":0,"u":1.4},{"i":19,"j":15,"u":4.2},{"i":19,"j":30,"u":7},{"i":20,"j":0,"u":1.4},{"i":20,"j":15,"u":4.4},{"i":20,"j":30,"u":7.4},{"i":21,"j":0,"u":1.5},{"i":21,"j":15,"u":4.6},{"i":21,"j":30,"u":7.8},{"i":22,"j":0,"u":1.6},{"i":22,"j":15,"u":4.8},{"i":22,"j":30,"u":8.2},{"i":23,"j":0,"u":1.6},{"i":23,"j":15,"u":5},{"i":23,"j":30,"u":8.7},{"i":24,"j":0,"u":1.7},{"i":24,"j":15,"u":5.2},{"i":24,"j":30,"u":9.1},{"i":25,"j":0,"u":1.8},{"i":25,"j":15,"u":5.4},{"i":25,"j":30,"u":9.6},{"i":26,"j":0,"u":1.8},{"i":26,"j":15,"u":5.6},{"i":26,"j":30,"u":10},{"i":27,"j":0,"u":1.9},{"i":27,"j":15,"u":5.8},{"i":27,"j":30,"u":10.4},{"i":28,"j":0,"u":1.9},{"i":28,"j":15,"u":6},{"i":28,"j":30,"u":10.9},{"i":29,"j":0,"u":2},{"i":29,"j":15,"u":6.2},{"i":29,"j":30,"u":11.3},{"i":30,"j":0,"u":2.1},{"i":30,"j":15,"u":6.4},{"i":30,"j":30,"u":11.8}],
"c1":[{"j":0,"i":0,"u":0.3},{"j":0,"i":4,"u":0.05},{"j":0,"i":15,"u":0.6},{"j":0,"i":30,"u":1.6},{"j":1,"i":0,"u":0.4},{"j":1,"i":4,"u":0.1},{"j":1,"i":15,"u":0.7},{"j":1,"i":30,"u":1.8},{"j":2,"i":0,"u":0.5},{"j":2,"i":4,"u":0.1},{"j":2,"i":15,"u":0.9},{"j":2,"i":30,"u":2.1},{"j":3,"i":0,"u":0.5},{"j":3,"i":4,"u":0.1},{"j":3,"i":15,"u":1},{"j":3,"i":30,"u":2.3},{"j":4,"i":0,"u":0.6},{"j":4,"i":4,"u":0.2},{"j":4,"i":15,"u":1.1},{"j":4,"i":30,"u":2.6},{"j":5,"i":0,"u":0.7},{"j":5,"i":4,"u":0.2},{"j":5,"i":15,"u":1.3},{"j":5,"i":30,"u":2.8},{"j":6,"i":0,"u":0.8},{"j":6,"i":4,"u":0.2},{"j":6,"i":15,"u":1.4},{"j":6,"i":30,"u":3},{"j":7,"i":0,"u":0.9},{"j":7,"i":4,"u":0.3},{"j":7,"i":15,"u":1.5},{"j":7,"i":30,"u":3.3},{"j":8,"i":0,"u":0.9},{"j":8,"i":4,"u":0.3},{"j":8,"i":15,"u":1.7},{"j":8,"i":30,"u":3.5},{"j":9,"i":0,"u":1},{"j":9,"i":4,"u":0.3},{"j":9,"i":15,"u":1.8},{"j":9,"i":30,"u":3.8},{"j":10,"i":0,"u":1.1},{"j":10,"i":4,"u":0.4},{"j":10,"i":15,"u":1.9},{"j":10,"i":30,"u":4},{"j":11,"i":0,"u":1.2},{"j":11,"i":4,"u":0.4},{"j":11,"i":15,"u":2.1},{"j":11,"i":30,"u":4.2},{"j":12,"i":0,"u":1.3},{"j":12,"i":4,"u":0.45},{"j":12,"i":15,"u":2.2},{"j":12,"i":30,"u":4.5},{"j":13,"i":0,"u":1.3},{"j":13,"i":4,"u":0.5},{"j":13,"i":15,"u":2.3},{"j":13,"i":30,"u":4.7},{"j":14,"i":0,"u":1.4},{"j":14,"i":4,"u":0.5},{"j":14,"i":15,"u":2.5},{"j":14,"i":30,"u":5},{"j":15,"i":0,"u":1.5},{"j":15,"i":4,"u":0.55},{"j":15,"i":15,"u":2.6},{"j":15,"i":30,"u":5.2},{"j":16,"i":0,"u":1.6},{"j":16,"i":4,"u":0.6},{"j":16,"i":15,"u":2.7},{"j":16,"i":30,"u":5.5},{"j":17,"i":0,"u":1.6},{"j":17,"i":4,"u":0.6},{"j":17,"i":15,"u":2.8},{"j":17,"i":30,"u":5.7},{"j":18,"i":0,"u":1.7},{"j":18,"i":4,"u":0.7},{"j":18,"i":15,"u":2.9},{"j":18,"i":30,"u":6},{"j":19,"i":0,"u":1.8},{"j":19,"i":4,"u":0.7},{"j":19,"i":15,"u":3},{"j":19,"i":30,"u":6.2},{"j":20,"i":0,"u":1.8},{"j":20,"i":4,"u":0.8},{"j":20,"i":15,"u":3.2},{"j":20,"i":30,"u":6.5},{"j":21,"i":0,"u":1.9},{"j":21,"i":4,"u":0.8},{"j":21,"i":15,"u":3.3},{"j":21,"i":30,"u":6.7},{"j":22,"i":0,"u":1.9},{"j":22,"i":4,"u":0.85},{"j":22,"i":15,"u":3.4},{"j":22,"i":30,"u":7},{"j":23,"i":0,"u":2},{"j":23,"i":4,"u":0.9},{"j":23,"i":15,"u":3.5},{"j":23,"i":30,"u":7.2},{"j":24,"i":0,"u":2.1},{"j":24,"i":4,"u":0.9},{"j":24,"i":15,"u":3.6},{"j":24,"i":30,"u":7.5},{"j":25,"i":0,"u":2.1},{"j":25,"i":4,"u":1},{"j":25,"i":15,"u":3.7},{"j":25,"i":30,"u":7.7},{"j":26,"i":0,"u":2.2},{"j":26,"i":4,"u":1},{"j":26,"i":15,"u":3.8},{"j":26,"i":30,"u":8},{"j":27,"i":0,"u":2.3},{"j":27,"i":4,"u":1.1},{"j":27,"i":15,"u":3.9},{"j":27,"i":30,"u":8.2},{"j":28,"i":0,"u":2.3},{"j":28,"i":4,"u":1.1},{"j":28,"i":15,"u":4},{"j":28,"i":30,"u":8.5},{"j":29,"i":0,"u":2.4},{"j":29,"i":4,"u":1.2},{"j":29,"i":15,"u":4.2},{"j":29,"i":30,"u":8.7},{"j":30,"i":0,"u":2.46},{"j":30,"i":4,"u":1.2},{"j":30,"i":7.4,"u":1.36},{"j":30,"i":9.7,"u":2.05},{"j":30,"i":15,"u":4.27},{"j":30,"i":22.4,"u":7.3},{"j":30,"i":30,"u":9}],
"c2":[{"i":0,"j":0,"u":0.3},{"i":0,"j":15,"u":1.5},{"i":0,"j":30,"u":2.46},{"i":1,"j":0,"u":0.2},{"i":1,"j":15,"u":1.2},{"i":1,"j":30,"u":2},{"i":2,"j":0,"u":0.1},{"i":2,"j":15,"u":0.9},{"i":2,"j":30,"u":1.6},{"i":3,"j":0,"u":0.05},{"i":3,"j":15,"u":0.7},{"i":3,"j":30,"u":1.3},{"i":4,"j":0,"u":0.05},{"i":4,"j":15,"u":0.55},{"i":4,"j":30,"u":1.2},{"i":5,"j":0,"u":0},{"i":5,"j":15,"u":0.6},{"i":5,"j":30,"u":1.2},{"i":6,"j":0,"u":0},{"i":6,"j":15,"u":0.7},{"i":6,"j":30,"u":1.25},{"i":7,"j":0,"u":0},{"i":7,"j":15,"u":0.9},{"i":7,"j":30,"u":1.3},{"i":8,"j":0,"u":0.1},{"i":8,"j":15,"u":1.1},{"i":8,"j":30,"u":1.5},{"i":9,"j":0,"u":0.1},{"i":9,"j":15,"u":1.3},{"i":9,"j":30,"u":1.8},{"i":10,"j":0,"u":0.2},{"i":10,"j":15,"u":1.5},{"i":10,"j":30,"u":2.2},{"i":11,"j":0,"u":0.3},{"i":11,"j":15,"u":1.7},{"i":11,"j":30,"u":2.6},{"i":12,"j":0,"u":0.4},{"i":12,"j":15,"u":1.9},{"i":12,"j":30,"u":3},{"i":13,"j":0,"u":0.45},{"i":13,"j":15,"u":2.2},{"i":13,"j":30,"u":3.4},{"i":14,"j":0,"u":0.5},{"i":14,"j":15,"u":2.4},{"i":14,"j":30,"u":3.9},{"i":15,"j":0,"u":0.6},{"i":15,"j":15,"u":2.6},{"i":15,"j":30,"u":4.27},{"i":16,"j":0,"u":0.7},{"i":16,"j":15,"u":2.8},{"i":16,"j":30,"u":4.7},{"i":17,"j":0,"u":0.8},{"i":17,"j":15,"u":3},{"i":17,"j":30,"u":5.1},{"i":18,"j":0,"u":0.9},{"i":18,"j":15,"u":3.2},{"i":18,"j":30,"u":5.5},{"i":19,"j":0,"u":1},{"i":19,"j":15,"u":3.4},{"i":19,"j":30,"u":5.9},{"i":20,"j":0,"u":1.1},{"i":20,"j":15,"u":3.5},{"i":20,"j":30,"u":6.3},{"i":21,"j":0,"u":1.15},{"i":21,"j":15,"u":3.7},{"i":21,"j":30,"u":6.7},{"i":22,"j":0,"u":1.2},{"i":22,"j":15,"u":3.9},{"i":22,"j":30,"u":7.1},{"i":23,"j":0,"u":1.25},{"i":23,"j":15,"u":4},{"i":23,"j":30,"u":7.5},{"i":24,"j":0,"u":1.3},{"i":24,"j":15,"u":4.2},{"i":24,"j":30,"u":7.7},{"i":25,"j":0,"u":1.3},{"i":25,"j":15,"u":4.4},{"i":25,"j":30,"u":7.9},{"i":26,"j":0,"u":1.35},{"i":26,"j":15,"u":4.5},{"i":26,"j":30,"u":8.1},{"i":27,"j":0,"u":1.4},{"i":27,"j":15,"u":4.7},{"i":27,"j":30,"u":8.3},{"i":28,"j":0,"u":1.5},{"i":28,"j":15,"u":4.9},{"i":28,"j":30,"u":8.55},{"i":29,"j":0,"u":1.55},{"i":29,"j":15,"u":5},{"i":29,"j":30,"u":8.8},{"i":30,"j":0,"u":1.6},{"i":30,"j":15,"u":5.2},{"i":30,"j":30,"u":9}],
"d1":[{"j":0,"i":4,"u":-0.9},{"j":0,"i":9,"u":-1.4},{"j":0,"i":15,"u":0},{"j":0,"i":22,"u":2.1},{"j":0,"i":30,"u":2.4},{"j":1,"i":4,"u":-1},{"j":1,"i":9,"u":-1.4},{"j":1,"i":15,"u":0.1},{"j":1,"i":22,"u":2.3},{"j":1,"i":30,"u":2.8},{"j":2,"i":4,"u":-1.2},{"j":2,"i":9,"u":-1.4},{"j":2,"i":15,"u":0.1},{"j":2,"i":22,"u":2.4},{"j":2,"i":30,"u":3.2},{"j":3,"i":4,"u":-1.3},{"j":3,"i":9,"u":-1.3},{"j":3,"i":15,"u":0.2},{"j":3,"i":22,"u":2.6},{"j":3,"i":30,"u":3.6},{"j":4,"i":4,"u":-1.4},{"j":4,"i":9,"u":-1.3},{"j":4,"i":15,"u":0.2},{"j":4,"i":22,"u":2.7},{"j":4,"i":30,"u":4},{"j":5,"i":4,"u":-1.5},{"j":5,"i":9,"u":-1.3},{"j":5,"i":15,"u":0.3},{"j":5,"i":22,"u":2.9},{"j":5,"i":30,"u":4.3},{"j":6,"i":4,"u":-1.7},{"j":6,"i":9,"u":-1.3},{"j":6,"i":15,"u":0.3},{"j":6,"i":22,"u":3},{"j":6,"i":30,"u":4.7},{"j":7,"i":4,"u":-1.8},{"j":7,"i":9,"u":-1.2},{"j":7,"i":15,"u":0.4},{"j":7,"i":22,"u":3.2},{"j":7,"i":30,"u":5.1},{"j":8,"i":4,"u":-1.9},{"j":8,"i":9,"u":-1.2},{"j":8,"i":15,"u":0.4},{"j":8,"i":22,"u":3.3},{"j":8,"i":30,"u":5.5},{"j":9,"i":4,"u":-1.8},{"j":9,"i":9,"u":-1.1},{"j":9,"i":15,"u":0.5},{"j":9,"i":22,"u":3.7},{"j":9,"i":30,"u":6.1},{"j":10,"i":4,"u":-1.8},{"j":10,"i":9,"u":-1},{"j":10,"i":15,"u":0.7},{"j":10,"i":22,"u":4.1},{"j":10,"i":30,"u":6.6},{"j":11,"i":4,"u":-1.7},{"j":11,"i":9,"u":-0.9},{"j":11,"i":15,"u":0.8},{"j":11,"i":22,"u":4.5},{"j":11,"i":30,"u":7.2},{"j":12,"i":4,"u":-1.6},{"j":12,"i":9,"u":-0.8},{"j":12,"i":15,"u":0.9},{"j":12,"i":22,"u":4.8},{"j":12,"i":30,"u":7.7},{"j":13,"i":4,"u":-1.5},{"j":13,"i":9,"u":-0.7},{"j":13,"i":15,"u":1},{"j":13,"i":22,"u":5.2},{"j":13,"i":30,"u":8.3},{"j":14,"i":4,"u":-1.5},{"j":14,"i":9,"u":-0.6},{"j":14,"i":15,"u":1.2},{"j":14,"i":22,"u":5.6},{"j":14,"i":30,"u":8.8},{"j":15,"i":4,"u":-1.4},{"j":15,"i":9,"u":-0.5},{"j":15,"i":15,"u":1.3},{"j":15,"i":22,"u":6},{"j":15,"i":30,"u":9.4},{"j":16,"i":4,"u":-1.4},{"j":16,"i":9,"u":-0.6},{"j":16,"i":15,"u":1.5},{"j":16,"i":22,"u":6.5},{"j":16,"i":30,"u":9.9},{"j":17,"i":4,"u":-1.4},{"j":17,"i":9,"u":-0.7},{"j":17,"i":15,"u":1.6},{"j":17,"i":22,"u":7},{"j":17,"i":30,"u":10.5},{"j":18,"i":4,"u":-1.4},{"j":18,"i":9,"u":-0.8},{"j":18,"i":15,"u":1.8},{"j":18,"i":22,"u":7.5},{"j":18,"i":30,"u":11},{"j":19,"i":4,"u":-1.3},{"j":19,"i":9,"u":-1},{"j":19,"i":15,"u":1.9},{"j":19,"i":22,"u":8},{"j":19,"i":30,"u":11.6},{"j":20,"i":4,"u":-1.3},{"j":20,"i":9,"u":-1.1},{"j":20,"i":15,"u":2.1},{"j":20,"i":22,"u":8.4},{"j":20,"i":30,"u":12.1},{"j":21,"i":4,"u":-1.3},{"j":21,"i":9,"u":-1.2},{"j":21,"i":15,"u":2.2},{"j":21,"i":22,"u":8.9},{"j":21,"i":30,"u":12.7},{"j":22,"i":4,"u":-1.3},{"j":22,"i":9,"u":-1.3},{"j":22,"i":15,"u":2.4},{"j":22,"i":22,"u":9.4},{"j":22,"i":30,"u":13.2},{"j":23,"i":4,"u":-1.3},{"j":23,"i":9,"u":-1.5},{"j":23,"i":15,"u":2.5},{"j":23,"i":22,"u":9.9},{"j":23,"i":30,"u":13.6},{"j":24,"i":4,"u":-1.4},{"j":24,"i":9,"u":-1.6},{"j":24,"i":15,"u":2.7},{"j":24,"i":22,"u":10.3},{"j":24,"i":30,"u":13.9},{"j":25,"i":4,"u":-1.4},{"j":25,"i":9,"u":-1.8},{"j":25,"i":15,"u":2.8},{"j":25,"i":22,"u":10.8},{"j":25,"i":30,"u":14.3},{"j":26,"i":4,"u":-1.4},{"j":26,"i":9,"u":-2},{"j":26,"i":15,"u":3},{"j":26,"i":22,"u":11.2},{"j":26,"i":30,"u":14.7},{"j":27,"i":4,"u":-1.5},{"j":27,"i":9,"u":-2.1},{"j":27,"i":15,"u":3.1},{"j":27,"i":22,"u":11.7},{"j":27,"i":30,"u":15.1},{"j":28,"i":4,"u":-1.5},{"j":28,"i":9,"u":-2.3},{"j":28,"i":15,"u":3.2},{"j":28,"i":22,"u":12.1},{"j":28,"i":30,"u":15.4},{"j":29,"i":4,"u":-1.6},{"j":29,"i":9,"u":-2.4},{"j":29,"i":15,"u":3.4},{"j":29,"i":22,"u":12.6},{"j":29,"i":30,"u":15.8},{"j":30,"i":4,"u":-1.6},{"j":30,"i":9,"u":-2.6},{"j":30,"i":15,"u":3.5},{"j":30,"i":22,"u":13},{"j":30,"i":26,"u":15.6},{"j":30,"i":30,"u":16.2}],
"d2":[{"i":5,"j":0,"u":-1.2},{"i":5,"j":15,"u":-1.2},{"i":5,"j":30,"u":-1.8},{"i":6,"j":0,"u":-1.3},{"i":6,"j":15,"u":-1},{"i":6,"j":30,"u":-2.2},{"i":7,"j":0,"u":-1.4},{"i":7,"j":15,"u":-0.9},{"i":7,"j":30,"u":-2.4},{"i":8,"j":0,"u":-1.4},{"i":8,"j":15,"u":-0.7},{"i":8,"j":30,"u":-2.5},{"i":9,"j":0,"u":-1.4},{"i":9,"j":15,"u":-0.5},{"i":9,"j":30,"u":-2.6},{"i":10,"j":0,"u":-1.3},{"i":10,"j":15,"u":-0.2},{"i":10,"j":30,"u":-1.7},{"i":11,"j":0,"u":-1.15},{"i":11,"j":15,"u":0.1},{"i":11,"j":30,"u":-0.8},{"i":12,"j":0,"u":-0.9},{"i":12,"j":15,"u":0.4},{"i":12,"j":30,"u":0.1},{"i":13,"j":0,"u":-0.6},{"i":13,"j":15,"u":0.7},{"i":13,"j":30,"u":1.2},{"i":14,"j":0,"u":-0.3},{"i":14,"j":15,"u":1},{"i":14,"j":30,"u":2.3},{"i":15,"j":0,"u":0},{"i":15,"j":15,"u":1.3},{"i":15,"j":30,"u":3.5},{"i":16,"j":0,"u":0.3},{"i":16,"j":15,"u":2},{"i":16,"j":30,"u":5},{"i":17,"j":0,"u":0.6},{"i":17,"j":15,"u":2.6},{"i":17,"j":30,"u":6.4},{"i":18,"j":0,"u":0.9},{"i":18,"j":15,"u":3.3},{"i":18,"j":30,"u":7.8},{"i":19,"j":0,"u":1.2},{"i":19,"j":15,"u":4},{"i":19,"j":30,"u":9.1},{"i":20,"j":0,"u":1.5},{"i":20,"j":15,"u":4.7},{"i":20,"j":30,"u":10.4},{"i":21,"j":0,"u":1.9},{"i":21,"j":15,"u":5.3},{"i":21,"j":30,"u":11.6},{"i":22,"j":0,"u":2.1},{"i":22,"j":15,"u":6},{"i":22,"j":30,"u":13},{"i":23,"j":0,"u":2.15},{"i":23,"j":15,"u":6.4},{"i":23,"j":30,"u":13.8},{"i":24,"j":0,"u":2.2},{"i":24,"j":15,"u":6.9},{"i":24,"j":30,"u":14.5},{"i":25,"j":0,"u":2.25},{"i":25,"j":15,"u":7.3},{"i":25,"j":30,"u":15.1},{"i":26,"j":0,"u":2.3},{"i":26,"j":15,"u":7.7},{"i":26,"j":30,"u":15.6},{"i":27,"j":0,"u":2.3},{"i":27,"j":15,"u":8.1},{"i":27,"j":30,"u":15.9},{"i":28,"j":0,"u":2.35},{"i":28,"j":15,"u":8.6},{"i":28,"j":30,"u":16},{"i":29,"j":0,"u":2.4},{"i":29,"j":15,"u":9},{"i":29,"j":30,"u":16.1},{"i":30,"j":0,"u":2.4},{"i":30,"j":15,"u":9.4},{"i":30,"j":30,"u":16.2}],
"d3":[{"j":0,"i":0,"u":0.8},{"j":0,"i":2,"u":0},{"j":0,"i":4,"u":-0.9},{"j":1,"i":0,"u":1.1},{"j":1,"i":2,"u":0},{"j":1,"i":4,"u":-1},{"j":2,"i":0,"u":1.3},{"j":2,"i":2,"u":0.1},{"j":2,"i":4,"u":-1.2},{"j":3,"i":0,"u":1.6},{"j":3,"i":2,"u":0.1},{"j":3,"i":4,"u":-1.3},{"j":4,"i":0,"u":1.8},{"j":4,"i":2,"u":0.1},{"j":4,"i":4,"u":-1.4},{"j":5,"i":0,"u":2.1},{"j":5,"i":2,"u":0.1},{"j":5,"i":4,"u":-1.5},{"j":6,"i":0,"u":2.4},{"j":6,"i":2,"u":0.2},{"j":6,"i":4,"u":-1.7},{"j":7,"i":0,"u":2.6},{"j":7,"i":2,"u":0.2},{"j":7,"i":4,"u":-1.8},{"j":8,"i":0,"u":2.8},{"j":8,"i":2,"u":0.2},{"j":8,"i":4,"u":-1.9},{"j":9,"i":0,"u":3.1},{"j":9,"i":2,"u":0.3},{"j":9,"i":4,"u":-1.8},{"j":10,"i":0,"u":3.4},{"j":10,"i":2,"u":0.4},{"j":10,"i":4,"u":-1.8},{"j":11,"i":0,"u":3.6},{"j":11,"i":2,"u":0.5},{"j":11,"i":4,"u":-1.7},{"j":12,"i":0,"u":3.9},{"j":12,"i":2,"u":0.5},{"j":12,"i":4,"u":-1.6},{"j":13,"i":0,"u":4.1},{"j":13,"i":2,"u":0.6},{"j":13,"i":4,"u":-1.5},{"j":14,"i":0,"u":4.4},{"j":14,"i":2,"u":0.7},{"j":14,"i":4,"u":-1.5},{"j":15,"i":0,"u":4.6},{"j":15,"i":2,"u":0.8},{"j":15,"i":4,"u":-1.4},{"j":16,"i":0,"u":4.9},{"j":16,"i":2,"u":0.9},{"j":16,"i":4,"u":-1.4},{"j":17,"i":0,"u":5.1},{"j":17,"i":2,"u":1},{"j":17,"i":4,"u":-1.4},{"j":18,"i":0,"u":5.4},{"j":18,"i":2,"u":1.1},{"j":18,"i":4,"u":-1.4},{"j":19,"i":0,"u":5.6},{"j":19,"i":2,"u":1.2},{"j":19,"i":4,"u":-1.3},{"j":20,"i":0,"u":5.9},{"j":20,"i":2,"u":1.3},{"j":20,"i":4,"u":-1.3},{"j":21,"i":0,"u":6.2},{"j":21,"i":2,"u":1.4},{"j":21,"i":4,"u":-1.3},{"j":22,"i":0,"u":6.4},{"j":22,"i":2,"u":1.5},{"j":22,"i":4,"u":-1.3},{"j":23,"i":0,"u":6.7},{"j":23,"i":2,"u":1.6},{"j":23,"i":4,"u":-1.3},{"j":24,"i":0,"u":7},{"j":24,"i":2,"u":1.7},{"j":24,"i":4,"u":-1.4},{"j":25,"i":0,"u":7.2},{"j":25,"i":2,"u":1.8},{"j":25,"i":4,"u":-1.4},{"j":26,"i":0,"u":7.5},{"j":26,"i":2,"u":1.9},{"j":26,"i":4,"u":-1.4},{"j":27,"i":0,"u":7.8},{"j":27,"i":2,"u":2},{"j":27,"i":4,"u":-1.5},{"j":28,"i":0,"u":8},{"j":28,"i":2,"u":2.1},{"j":28,"i":4,"u":-1.5},{"j":29,"i":0,"u":8.3},{"j":29,"i":2,"u":2.2},{"j":29,"i":4,"u":-1.6},{"j":30,"i":0,"u":8.6},{"j":30,"i":2,"u":2.3},{"j":30,"i":4,"u":-1.6}],
"d4":[{"i":0,"j":0,"u":0.8},{"i":0,"j":8,"u":2.8},{"i":0,"j":15,"u":4.6},{"i":0,"j":22,"u":6.4},{"i":0,"j":30,"u":8.6},{"i":1,"j":0,"u":0.4},{"i":1,"j":8,"u":1.4},{"i":1,"j":15,"u":2.6},{"i":1,"j":22,"u":3.8},{"i":1,"j":30,"u":5},{"i":2,"j":0,"u":0},{"i":2,"j":8,"u":0.2},{"i":2,"j":15,"u":0.8},{"i":2,"j":22,"u":1.5},{"i":2,"j":30,"u":2.3},{"i":3,"j":0,"u":-0.5},{"i":3,"j":8,"u":-1},{"i":3,"j":15,"u":-0.4},{"i":3,"j":22,"u":0},{"i":3,"j":30,"u":0.2},{"i":4,"j":0,"u":-0.9},{"i":4,"j":8,"u":-1.9},{"i":4,"j":15,"u":-1.4},{"i":4,"j":22,"u":-1.3},{"i":4,"j":30,"u":-1.6}],
"titles":[{"t":"(a) Approximate solution for α=1","x":393,"y":32},{"t":"(b) α=1.5","x":1213,"y":32},{"t":"(c) α=2","x":393,"y":505},{"t":"(d) α=2.5","x":1213,"y":505}],
"labels":[
{"t":"20","x":57,"y":117},{"t":"15","x":57,"y":167},{"t":"10","x":57,"y":216},{"t":"5","x":62,"y":259},{"t":"0","x":62,"y":303},{"t":"2","x":62,"y":325},{"t":"1.5","x":123,"y":345},{"t":"1","x":197,"y":366},{"t":"0.5","x":259,"y":387},{"t":"0","x":335,"y":407},{"t":"0","x":371,"y":411},{"t":"0.5","x":467,"y":393},{"t":"1","x":547,"y":378},{"t":"1.5","x":644,"y":361},{"t":"2","x":724,"y":344},{"t":"y","x":214,"y":428},{"t":"x","x":507,"y":433},
{"t":"15","x":878,"y":117},{"t":"10","x":878,"y":182},{"t":"5","x":883,"y":247},{"t":"0","x":883,"y":303},{"t":"2","x":882,"y":325},{"t":"1.5","x":943,"y":345},{"t":"1","x":1018,"y":366},{"t":"0.5","x":1079,"y":387},{"t":"0","x":1155,"y":407},{"t":"0","x":1191,"y":411},{"t":"0.5","x":1287,"y":393},{"t":"1","x":1367,"y":378},{"t":"1.5","x":1464,"y":361},{"t":"2","x":1544,"y":344},{"t":"y","x":1035,"y":428},{"t":"x","x":1328,"y":433},
{"t":"10","x":57,"y":588},{"t":"5","x":62,"y":685},{"t":"0","x":62,"y":774},{"t":"2","x":62,"y":796},{"t":"1.5","x":123,"y":816},{"t":"1","x":197,"y":837},{"t":"0.5","x":259,"y":858},{"t":"0","x":335,"y":878},{"t":"0","x":371,"y":882},{"t":"0.5","x":467,"y":864},{"t":"1","x":547,"y":849},{"t":"1.5","x":644,"y":832},{"t":"2","x":724,"y":815},{"t":"y","x":214,"y":899},{"t":"x","x":507,"y":904},
{"t":"20","x":878,"y":588},{"t":"10","x":878,"y":650},{"t":"0","x":883,"y":716},{"t":"-10","x":873,"y":778},{"t":"2","x":882,"y":796},{"t":"1.5","x":943,"y":816},{"t":"1","x":1018,"y":837},{"t":"0.5","x":1079,"y":858},{"t":"0","x":1155,"y":878},{"t":"0","x":1191,"y":882},{"t":"0.5","x":1287,"y":864},{"t":"1","x":1367,"y":849},{"t":"1.5","x":1464,"y":832},{"t":"2","x":1544,"y":815},{"t":"y","x":1035,"y":899},{"t":"x","x":1328,"y":904}
],
"ulabels":[{"t":"u(x,y,0.5)","x":30,"y":210},{"t":"u(x,y,0.5)","x":850,"y":218},{"t":"u(x,y,0.5)","x":30,"y":690},{"t":"u(x,y,0.5)","x":846,"y":690}]
},
"layer":[
{"data":{"name":"dash"},"transform":[{"calculate":"{a:353,b:1174,c:353,d:1174}[datum.p]+11.77*datum.i-9.05*datum.j","as":"X"},{"calculate":"{a:394,b:394,c:865,d:865}[datum.p]-2.3*datum.i-2.77*datum.j-{a:9.5,b:12.67,c:19.1,d:6.37}[datum.p]*(datum.u+(datum.p=='d'?10:0))","as":"Y"}],"mark":{"type":"line","color":"#000","strokeWidth":2,"strokeDash":[24,23]},"encoding":{"x":{"field":"X","type":"quantitative","scale":{"domain":[0,1568]}},"y":{"field":"Y","type":"quantitative","scale":{"domain":[929,0]}},"detail":[{"field":"p"},{"field":"g"}]}},
{"data":{"name":"polys"},"mark":{"type":"geoshape","strokeWidth":1.5},"projection":{"type":"identity","scale":2.4247,"translate":[0,0]},"encoding":{"fill":{"field":"f","type":"quantitative","legend":null,"scale":{"domain":[0,0.125,0.39,0.48,0.56,0.64,0.84,1],"range":["#00008f","#0000ff","#00ffff","#00ff80","#80ff00","#ffff00","#ff0000","#800000"]}},"stroke":{"field":"f","type":"quantitative","legend":null,"scale":{"domain":[0,0.125,0.39,0.48,0.56,0.64,0.84,1],"range":["#00008f","#0000ff","#00ffff","#00ff80","#80ff00","#ffff00","#ff0000","#800000"]}}}},
{"data":{"name":"a1"},"transform":[{"calculate":"353+11.77*datum.i-9.03*datum.j","as":"X"},{"calculate":"394-2.3*datum.i-2.77*datum.j-9.5*datum.u","as":"Y"}],"mark":{"type":"line","interpolate":"monotone","color":"#000","strokeWidth":2},"encoding":{"x":{"field":"X","type":"quantitative","scale":{"domain":[0,1568]}},"y":{"field":"Y","type":"quantitative","scale":{"domain":[929,0]}},"detail":{"field":"j"}}},
{"data":{"name":"a2"},"transform":[{"calculate":"353+11.77*datum.i-9.03*datum.j","as":"X"},{"calculate":"394-2.3*datum.i-2.77*datum.j-9.5*datum.u","as":"Y"}],"mark":{"type":"line","interpolate":"monotone","color":"#000","strokeWidth":2},"encoding":{"x":{"field":"X","type":"quantitative","scale":{"domain":[0,1568]}},"y":{"field":"Y","type":"quantitative","scale":{"domain":[929,0]}},"detail":{"field":"i"}}},
{"data":{"name":"b1"},"transform":[{"calculate":"1174+11.77*datum.i-9.07*datum.j","as":"X"},{"calculate":"394-2.3*datum.i-2.77*datum.j-12.67*datum.u","as":"Y"}],"mark":{"type":"line","interpolate":"monotone","color":"#000","strokeWidth":2},"encoding":{"x":{"field":"X","type":"quantitative","scale":{"domain":[0,1568]}},"y":{"field":"Y","type":"quantitative","scale":{"domain":[929,0]}},"detail":{"field":"j"}}},
{"data":{"name":"b2"},"transform":[{"calculate":"1174+11.77*datum.i-9.07*datum.j","as":"X"},{"calculate":"394-2.3*datum.i-2.77*datum.j-12.67*datum.u","as":"Y"}],"mark":{"type":"line","interpolate":"monotone","color":"#000","strokeWidth":2},"encoding":{"x":{"field":"X","type":"quantitative","scale":{"domain":[0,1568]}},"y":{"field":"Y","type":"quantitative","scale":{"domain":[929,0]}},"detail":{"field":"i"}}},
{"data":{"name":"c1"},"transform":[{"calculate":"353+11.77*datum.i-9.03*datum.j","as":"X"},{"calculate":"865-2.3*datum.i-2.77*datum.j-19.1*datum.u","as":"Y"}],"mark":{"type":"line","interpolate":"monotone","color":"#000","strokeWidth":2},"encoding":{"x":{"field":"X","type":"quantitative","scale":{"domain":[0,1568]}},"y":{"field":"Y","type":"quantitative","scale":{"domain":[929,0]}},"detail":{"field":"j"}}},
{"data":{"name":"c2"},"transform":[{"calculate":"353+11.77*datum.i-9.03*datum.j","as":"X"},{"calculate":"865-2.3*datum.i-2.77*datum.j-19.1*datum.u","as":"Y"}],"mark":{"type":"line","interpolate":"monotone","color":"#000","strokeWidth":2},"encoding":{"x":{"field":"X","type":"quantitative","scale":{"domain":[0,1568]}},"y":{"field":"Y","type":"quantitative","scale":{"domain":[929,0]}},"detail":{"field":"i"}}},
{"data":{"name":"d1"},"transform":[{"calculate":"1174+11.77*datum.i-9.07*datum.j","as":"X"},{"calculate":"801.3-2.3*datum.i-2.77*datum.j-6.37*datum.u","as":"Y"}],"mark":{"type":"line","interpolate":"monotone","color":"#000","strokeWidth":2},"encoding":{"x":{"field":"X","type":"quantitative","scale":{"domain":[0,1568]}},"y":{"field":"Y","type":"quantitative","scale":{"domain":[929,0]}},"detail":{"field":"j"}}},
{"data":{"name":"d2"},"transform":[{"calculate":"1174+11.77*datum.i-9.07*datum.j","as":"X"},{"calculate":"801.3-2.3*datum.i-2.77*datum.j-6.37*datum.u","as":"Y"}],"mark":{"type":"line","interpolate":"monotone","color":"#000","strokeWidth":2},"encoding":{"x":{"field":"X","type":"quantitative","scale":{"domain":[0,1568]}},"y":{"field":"Y","type":"quantitative","scale":{"domain":[929,0]}},"detail":{"field":"i"}}},
{"data":{"name":"strip"},"mark":{"type":"geoshape","strokeWidth":1.5},"projection":{"type":"identity","scale":2.4247,"translate":[0,0]},"encoding":{"fill":{"field":"f","type":"quantitative","legend":null,"scale":{"domain":[0,0.125,0.39,0.48,0.56,0.64,0.84,1],"range":["#00008f","#0000ff","#00ffff","#00ff80","#80ff00","#ffff00","#ff0000","#800000"]}},"stroke":{"field":"f","type":"quantitative","legend":null,"scale":{"domain":[0,0.125,0.39,0.48,0.56,0.64,0.84,1],"range":["#00008f","#0000ff","#00ffff","#00ff80","#80ff00","#ffff00","#ff0000","#800000"]}}}},
{"data":{"name":"d3"},"transform":[{"calculate":"1174+11.77*datum.i-9.07*datum.j","as":"X"},{"calculate":"801.3-2.3*datum.i-2.77*datum.j-6.37*datum.u","as":"Y"}],"mark":{"type":"line","interpolate":"monotone","color":"#000","strokeWidth":2},"encoding":{"x":{"field":"X","type":"quantitative","scale":{"domain":[0,1568]}},"y":{"field":"Y","type":"quantitative","scale":{"domain":[929,0]}},"detail":{"field":"j"}}},
{"data":{"name":"d4"},"transform":[{"calculate":"1174+11.77*datum.i-9.07*datum.j","as":"X"},{"calculate":"801.3-2.3*datum.i-2.77*datum.j-6.37*datum.u","as":"Y"}],"mark":{"type":"line","interpolate":"monotone","color":"#000","strokeWidth":2},"encoding":{"x":{"field":"X","type":"quantitative","scale":{"domain":[0,1568]}},"y":{"field":"Y","type":"quantitative","scale":{"domain":[929,0]}},"detail":{"field":"i"}}},
{"data":{"name":"solid"},"transform":[{"calculate":"{a:353,b:1174,c:353,d:1174}[datum.p]+11.77*datum.i-9.05*datum.j","as":"X"},{"calculate":"{a:394,b:394,c:865,d:865}[datum.p]-2.3*datum.i-2.77*datum.j-{a:9.5,b:12.67,c:19.1,d:6.37}[datum.p]*(datum.u+(datum.p=='d'?10:0))","as":"Y"}],"mark":{"type":"line","color":"#000","strokeWidth":2},"encoding":{"x":{"field":"X","type":"quantitative","scale":{"domain":[0,1568]}},"y":{"field":"Y","type":"quantitative","scale":{"domain":[929,0]}},"detail":[{"field":"p"},{"field":"g"}]}},
{"data":{"name":"titles"},"mark":{"type":"text","align":"center","baseline":"middle","fontSize":44},"encoding":{"x":{"field":"x","type":"quantitative","scale":{"domain":[0,1568]}},"y":{"field":"y","type":"quantitative","scale":{"domain":[929,0]}},"text":{"field":"t"}}},
{"data":{"name":"labels"},"mark":{"type":"text","align":"center","baseline":"middle"},"encoding":{"x":{"field":"x","type":"quantitative","scale":{"domain":[0,1568]}},"y":{"field":"y","type":"quantitative","scale":{"domain":[929,0]}},"text":{"field":"t"}}},
{"data":{"name":"ulabels"},"mark":{"type":"text","align":"center","baseline":"middle","angle":270},"encoding":{"x":{"field":"x","type":"quantitative","scale":{"domain":[0,1568]}},"y":{"field":"y","type":"quantitative","scale":{"domain":[929,0]}},"text":{"field":"t"}}}
]
}
